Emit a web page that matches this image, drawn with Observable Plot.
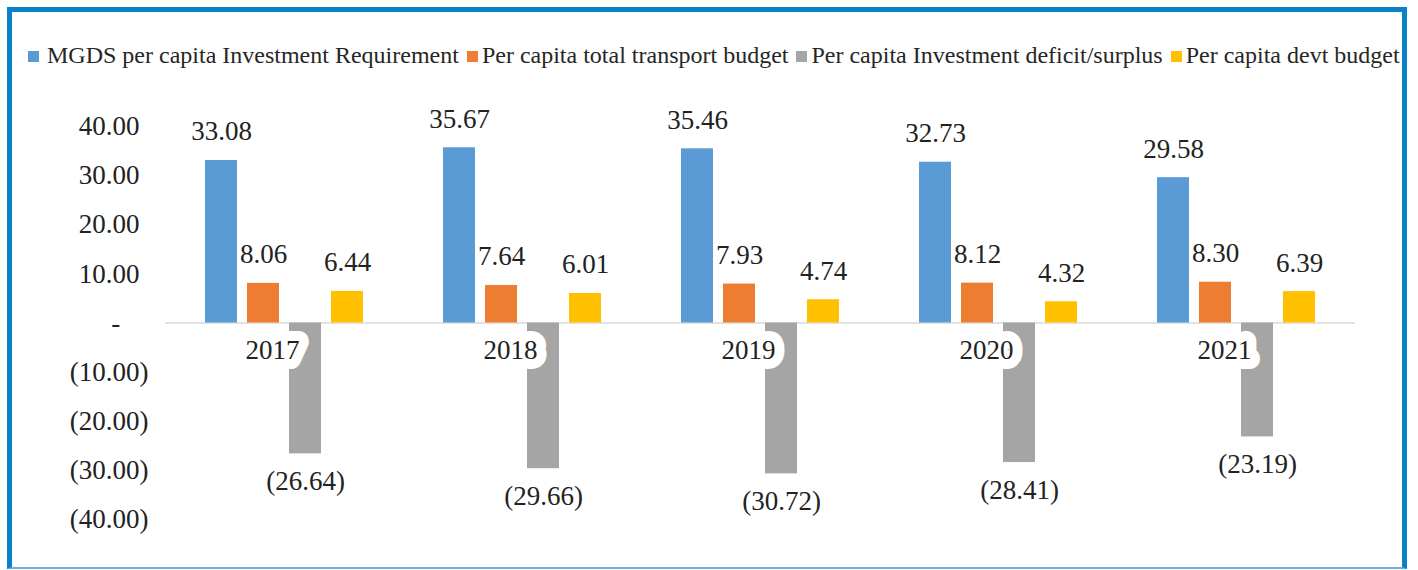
<!DOCTYPE html>
<html>
<head>
<meta charset="utf-8">
<script src="https://cdn.jsdelivr.net/npm/d3@7"></script>
<script src="https://cdn.jsdelivr.net/npm/@observablehq/plot@0.6"></script>
<style>
  html, body { margin: 0; padding: 0; background: #fff; }
  #wrap { position: relative; width: 1418px; height: 570px; overflow: hidden; background: #fff; font-family: "Liberation Serif", "Times New Roman", Times, "DejaVu Serif", serif; }
  #frame { position: absolute; left: 7px; top: 7px; width: 1400px; height: 562px; box-sizing: border-box;
           border-left: 5px solid #0b80c8; border-top: 5px solid #0b80c8; border-right: 5px solid #0b80c8; border-bottom: 2px solid #6cb0de; pointer-events: none; z-index: 3; }
  #legend { position: absolute; left: 28px; top: 43px; white-space: nowrap; font-size: 24px; line-height: 24px; color: #262626; z-index: 2; }
  #legend .item { display: inline-block; margin-right: 8px; }
  #legend .sw { display: inline-block; width: 11px; height: 11px; margin-right: 4px; vertical-align: baseline; margin-bottom: 1px; }
  #chart { position: absolute; left: 0; top: 90px; z-index: 1; }
</style>
</head>
<body>
<div id="wrap">
  <div id="legend"></div>
  <div id="chart"></div>
  <div id="frame"></div>
</div>
<script>
const years = ["2017", "2018", "2019", "2020", "2021"];
const seriesNames = [
  "MGDS per capita Investment Requirement",
  "Per capita total transport budget",
  "Per capita Investment deficit/surplus",
  "Per capita devt budget"
];
const seriesColors = ["#5b9bd5", "#ed7d31", "#a5a5a5", "#ffc000"];
const mgdsRequirement = [33.08, 35.67, 35.46, 32.73, 29.58];
const transportBudget = [8.06, 7.64, 7.93, 8.12, 8.30];
const deficitSurplus = [-26.64, -29.66, -30.72, -28.41, -23.19];
const devtBudget = [6.44, 6.01, 4.74, 4.32, 6.39];
const yTicks = [40, 30, 20, 10, 0, -10, -20, -30, -40];

const seriesValues = [mgdsRequirement, transportBudget, deficitSurplus, devtBudget];
const rows = [];
years.forEach((yr, i) => {
  seriesNames.forEach((s, j) => rows.push({year: yr, series: s, value: seriesValues[j][i]}));
});

const fmt = v => v === 0 ? "\u2007-" : v < 0 ? `(${Math.abs(v).toFixed(2)})` : v.toFixed(2);

// legend
const legend = document.getElementById("legend");
seriesNames.forEach((s, j) => {
  const it = document.createElement("span");
  it.className = "item";
  const sw = document.createElement("span");
  sw.className = "sw";
  sw.style.background = seriesColors[j];
  if (j === 0) sw.style.marginRight = "8px";
  it.appendChild(sw);
  it.appendChild(document.createTextNode(s));
  legend.appendChild(it);
});

const textColor = "#222";
const chart = Plot.plot({
  width: 1418,
  height: 470,
  marginLeft: 164,
  marginRight: 63,
  marginTop: 36,
  marginBottom: 41,
  style: {fontFamily: "'Liberation Serif', 'Times New Roman', Times, 'DejaVu Serif', serif", fontSize: "27px", color: textColor, background: "transparent", overflow: "visible"},
  fx: {domain: years, paddingInner: 0, paddingOuter: 0, axis: null, label: null},
  x: {domain: seriesNames, paddingInner: 0.2326, paddingOuter: 0.884, axis: null, label: null},
  y: {domain: [-40, 40], label: null},
  color: {domain: seriesNames, range: seriesColors},
  marks: [
    Plot.axisY(yTicks, {tickSize: 0, tickPadding: 0, dx: -56.5, textAnchor: "middle", tickFormat: fmt, label: null, fill: textColor}),
    Plot.ruleY([0], {stroke: "#d9d9d9", strokeWidth: 1.5}),
    Plot.barY(rows, {fx: "year", x: "series", y: "value", fill: "series"}),
    Plot.text(years, {fx: d => d, y: () => 0, text: d => d, lineAnchor: "bottom", dy: 36, dx: -12,
      fill: textColor, stroke: "white", strokeWidth: 20, strokeLinejoin: "round", paintOrder: "stroke"}),
    Plot.text(rows.filter(d => d.value >= 0), {fx: "year", x: "series", y: "value", text: d => fmt(d.value),
      lineAnchor: "bottom", dy: -20, fill: textColor}),
    Plot.text(rows.filter(d => d.value < 0), {fx: "year", x: "series", y: "value", text: d => fmt(d.value),
      lineAnchor: "bottom", dy: 36, fill: textColor})
  ]
});
document.getElementById("chart").appendChild(chart);
</script>
</body>
</html>
